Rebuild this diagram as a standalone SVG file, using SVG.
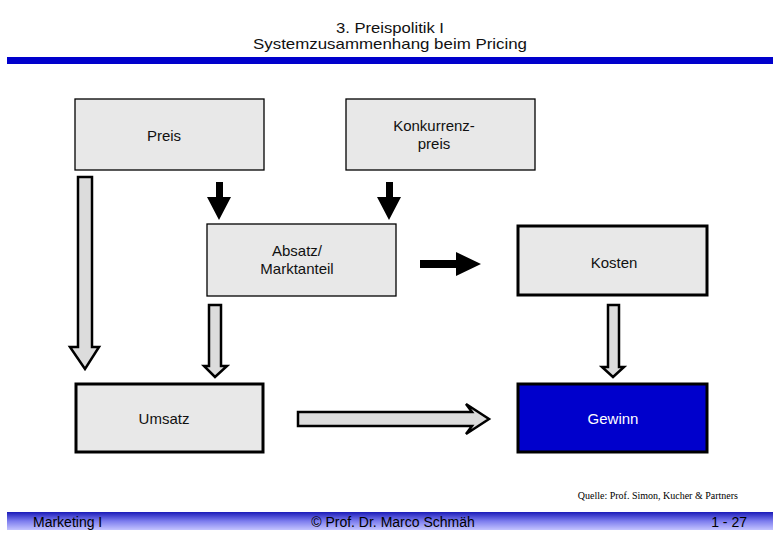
<svg xmlns="http://www.w3.org/2000/svg" width="780" height="540" viewBox="0 0 780 540">
<defs>
<linearGradient id="foot" x1="0" y1="0" x2="0" y2="1">
<stop offset="0" stop-color="#1a1ab8"/>
<stop offset="0.5" stop-color="#7c7cee"/>
<stop offset="1" stop-color="#c4c4ff"/>
</linearGradient>
<style>
.t{font-family:"Liberation Sans",Arial,sans-serif;font-size:15px;fill:#111;text-anchor:middle}
.box{fill:#e8e8e8;stroke:#000;stroke-width:1.3}
.boxb{fill:#e8e8e8;stroke:#000;stroke-width:3}
.ga{fill:#dcdcdc;stroke:#000;stroke-width:2.5;stroke-linejoin:miter}
.ba{fill:#000}
</style>
</defs>
<rect width="780" height="540" fill="#fff"/>
<text class="t" x="390" y="33" textLength="108" lengthAdjust="spacingAndGlyphs">3. Preispolitik I</text>
<text class="t" x="390" y="49" textLength="274" lengthAdjust="spacingAndGlyphs">Systemzusammenhang beim Pricing</text>
<rect x="7" y="57" width="766" height="7" fill="#0000cc"/>

<g id="preis"><rect class="box" x="75" y="99" width="189" height="71"/><text class="t" x="164" y="141">Preis</text></g>
<g id="konkurrenzpreis"><rect class="box" x="346" y="99" width="189" height="71"/><text class="t" x="434" y="131">Konkurrenz-</text><text class="t" x="434" y="149">preis</text></g>
<g id="absatz"><rect class="box" x="207" y="224" width="189" height="72"/><text class="t" x="297" y="256">Absatz/</text><text class="t" x="297" y="274">Marktanteil</text></g>
<g id="kosten"><rect class="boxb" x="518" y="226" width="189" height="69"/><text class="t" x="614" y="268">Kosten</text></g>
<g id="umsatz"><rect class="boxb" x="76" y="384" width="187" height="68"/><text class="t" x="164" y="424">Umsatz</text></g>
<g id="gewinn"><rect x="518" y="384" width="189" height="68" fill="#0000cc" stroke="#000" stroke-width="3"/><text class="t" x="613" y="424" style="fill:#fff">Gewinn</text></g>

<g id="connectors">
<polygon class="ga" points="78,177 92,177 92,347 99,347 85,369 70,347 78,347"/>
<polygon class="ga" points="209,305 221,305 221,366 227,366 215,377 204,366 209,366"/>
<polygon class="ga" points="608,305 619,305 619,367 624,367 613,377 602,367 608,367"/>
<polygon class="ga" points="298,412 472,412 466,404 489,419 466,434 472,426 298,426"/>
<polygon class="ba" points="216,182 223,182 223,197 231,197 219,220 207,197 216,197"/>
<polygon class="ba" points="386,182 393,182 393,197 401,197 389,220 377,197 386,197"/>
<polygon class="ba" points="420,260 456,260 456,252 481,264 456,276 456,268 420,268"/>
</g>

<text x="738" y="499" font-family="'Liberation Serif','Times New Roman',serif" font-size="10" text-anchor="end" fill="#000">Quelle: Prof. Simon, Kucher &amp; Partners</text>

<rect x="7" y="512" width="766" height="18" fill="url(#foot)"/>
<g font-family="'Liberation Sans',Arial,sans-serif" font-size="14" fill="#000">
<text x="33" y="527">Marketing I</text>
<text x="393" y="527" text-anchor="middle">© Prof. Dr. Marco Schmäh</text>
<text x="747" y="527" text-anchor="end">1 - 27</text>
</g>
</svg>
